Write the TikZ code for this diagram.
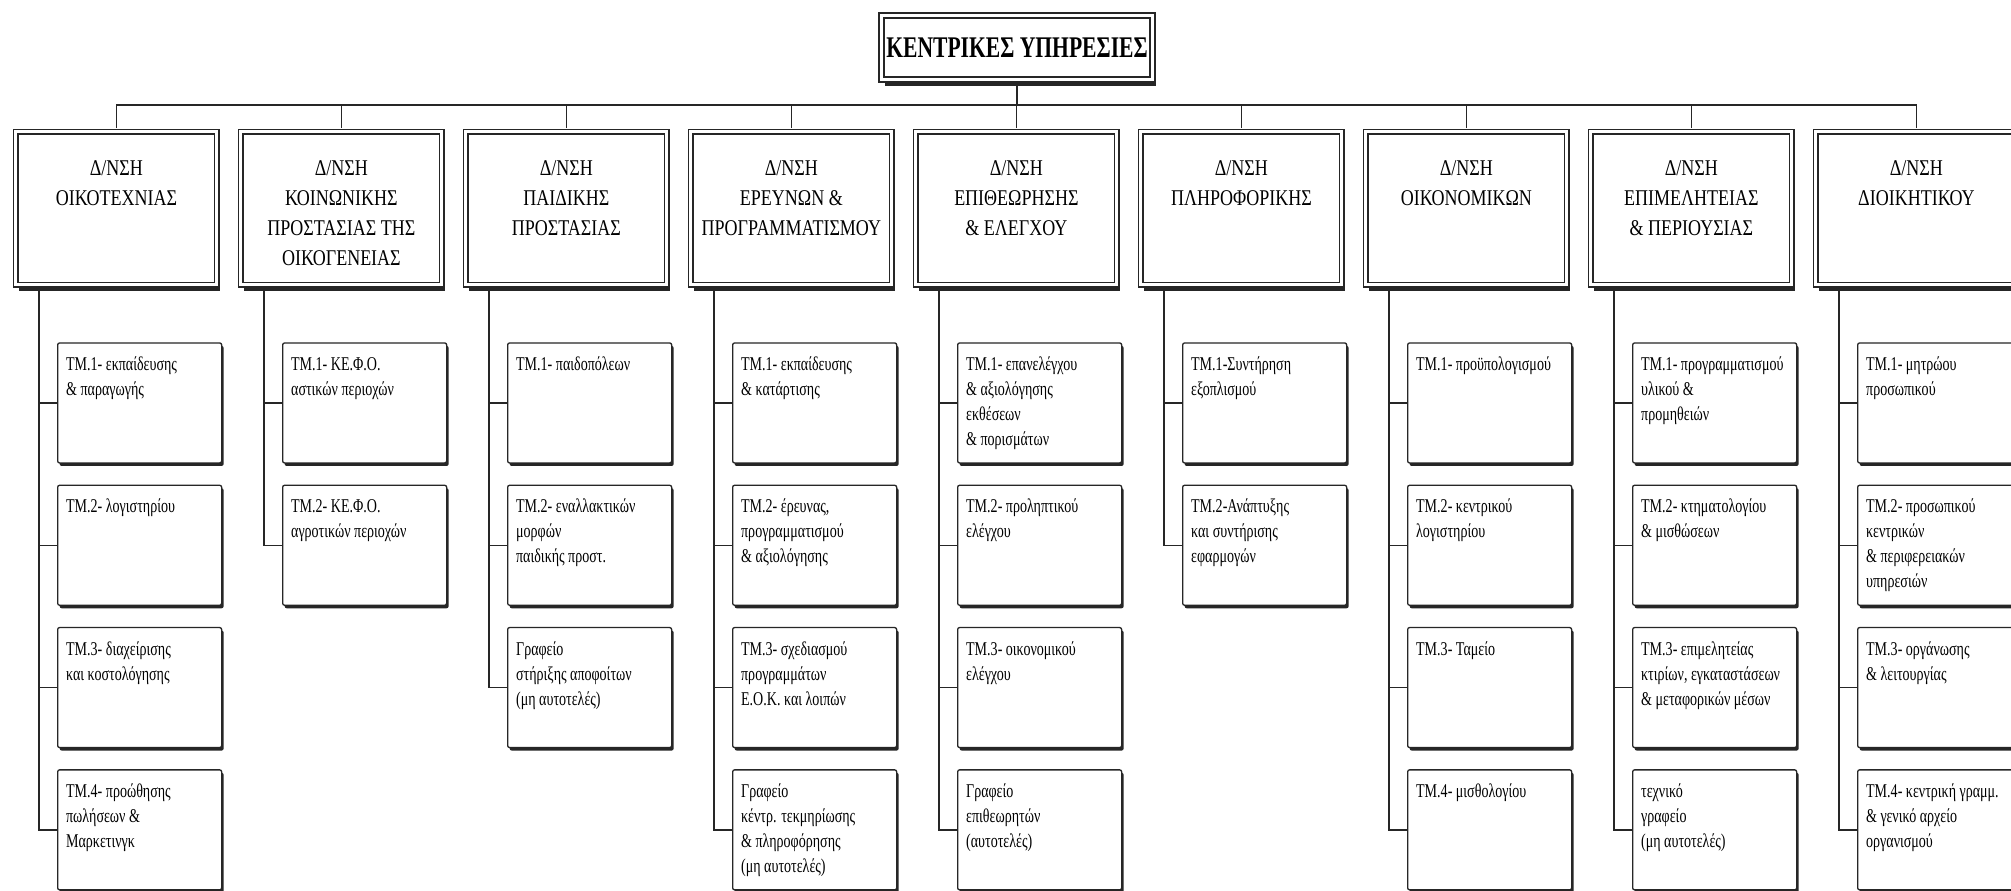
\documentclass[tikz,border=0pt]{standalone}
\usepackage{fontspec}
\setmainfont{Liberation Serif}[FakeStretch=0.72]
\newfontfamily\dirfont{Liberation Serif}[FakeStretch=0.8]
\usetikzlibrary{positioning,shadows}

\newcommand{\dirlines}[1]{\parbox[t][107pt][t]{190pt}{\centering\strut #1}}
\newcommand{\tmlines}[1]{\parbox[t][100pt][t]{147pt}{\raggedright\strut #1}}

\begin{document}
\begin{tikzpicture}[x=1pt, y=-1pt]
    \tikzstyle{headbox} = [rectangle, draw=black!85, line width=1.8pt, double,
               double distance=3pt, fill=white,
               drop shadow={shadow xshift=3.5pt, shadow yshift=-6.5pt, fill=black!85, opacity=1},
               minimum width=271pt, minimum height=64pt, inner sep=0pt,
               font=\bfseries\fontsize{30}{36}\selectfont]
    \tikzstyle{dirbox} = [rectangle, draw=black!85, line width=1.8pt, double,
               double distance=3pt, fill=white,
               drop shadow={shadow xshift=3.5pt, shadow yshift=-6.5pt, fill=black!85, opacity=1},
               minimum width=201pt, minimum height=153pt,
               inner xsep=5.5pt, inner ysep=23pt,
               font=\dirfont\fontsize{22.5}{30}\selectfont]
    \tikzstyle{tmbox} = [rectangle, rounded corners=2pt, draw=black!85, line width=1.3pt,
               fill=white,
               drop shadow={shadow xshift=2pt, shadow yshift=-3pt, fill=black!85, opacity=1},
               minimum width=164pt, minimum height=120pt,
               inner xsep=8.5pt, inner ysep=10pt,
               font=\fontsize{19.5}{25}\selectfont]
    \tikzstyle{line} = [draw, black!85, line width=1.5pt]

    \useasboundingbox (0,0) rectangle (2011,891);
    \fill[white] (0,0) rectangle (2011,891);

    % Head of the chart
    \node[headbox] (central) at (1017,47.5) {ΚΕΝΤΡΙΚΕΣ ΥΠΗΡΕΣΙΕΣ};

    % Directorates
    \node[dirbox, anchor=north west] (dir1) at (15,131) {\dirlines{Δ/ΝΣΗ\\ ΟΙΚΟΤΕΧΝΙΑΣ}};
    \node[dirbox, right=22.2pt of dir1] (dir2) {\dirlines{Δ/ΝΣΗ\\ ΚΟΙΝΩΝΙΚΗΣ\\ ΠΡΟΣΤΑΣΙΑΣ ΤΗΣ\\ ΟΙΚΟΓΕΝΕΙΑΣ}};
    \node[dirbox, right=22.2pt of dir2] (dir3) {\dirlines{Δ/ΝΣΗ\\ ΠΑΙΔΙΚΗΣ\\ ΠΡΟΣΤΑΣΙΑΣ}};
    \node[dirbox, right=22.2pt of dir3] (dir4) {\dirlines{Δ/ΝΣΗ\\ ΕΡΕΥΝΩΝ \&\\ ΠΡΟΓΡΑΜΜΑΤΙΣΜΟΥ}};
    \node[dirbox, right=22.2pt of dir4] (dir5) {\dirlines{Δ/ΝΣΗ\\ ΕΠΙΘΕΩΡΗΣΗΣ\\ \& ΕΛΕΓΧΟΥ}};
    \node[dirbox, right=22.2pt of dir5] (dir6) {\dirlines{Δ/ΝΣΗ\\ ΠΛΗΡΟΦΟΡΙΚΗΣ}};
    \node[dirbox, right=22.2pt of dir6] (dir7) {\dirlines{Δ/ΝΣΗ\\ ΟΙΚΟΝΟΜΙΚΩΝ}};
    \node[dirbox, right=22.2pt of dir7] (dir8) {\dirlines{Δ/ΝΣΗ\\ ΕΠΙΜΕΛΗΤΕΙΑΣ\\ \& ΠΕΡΙΟΥΣΙΑΣ}};
    \node[dirbox, right=22.2pt of dir8] (dir9) {\dirlines{Δ/ΝΣΗ\\ ΔΙΟΙΚΗΤΙΚΟΥ}};

    % Departments
    \node[tmbox, anchor=north west] (dir1-1) at ([xshift=42pt,yshift=-56.5pt]dir1.south west) {\tmlines{ΤΜ.1- εκπαίδευσης\\ \& παραγωγής}};
    \node[tmbox, below=21pt of dir1-1] (dir1-2) {\tmlines{ΤΜ.2- λογιστηρίου}};
    \node[tmbox, below=21pt of dir1-2] (dir1-3) {\tmlines{ΤΜ.3- διαχείρισης\\ και κοστολόγησης}};
    \node[tmbox, below=21pt of dir1-3] (dir1-4) {\tmlines{ΤΜ.4- προώθησης\\ πωλήσεων \&\\ Μαρκετινγκ}};

    \node[tmbox, anchor=north west] (dir2-1) at ([xshift=42pt,yshift=-56.5pt]dir2.south west) {\tmlines{ΤΜ.1- ΚΕ.Φ.Ο.\\ αστικών περιοχών}};
    \node[tmbox, below=21pt of dir2-1] (dir2-2) {\tmlines{ΤΜ.2- ΚΕ.Φ.Ο.\\ αγροτικών περιοχών}};

    \node[tmbox, anchor=north west] (dir3-1) at ([xshift=42pt,yshift=-56.5pt]dir3.south west) {\tmlines{ΤΜ.1- παιδοπόλεων}};
    \node[tmbox, below=21pt of dir3-1] (dir3-2) {\tmlines{ΤΜ.2- εναλλακτικών\\ μορφών\\ παιδικής προστ.}};
    \node[tmbox, below=21pt of dir3-2] (dir3-3) {\tmlines{Γραφείο\\ στήριξης αποφοίτων\\ (μη αυτοτελές)}};

    \node[tmbox, anchor=north west] (dir4-1) at ([xshift=42pt,yshift=-56.5pt]dir4.south west) {\tmlines{ΤΜ.1- εκπαίδευσης\\ \& κατάρτισης}};
    \node[tmbox, below=21pt of dir4-1] (dir4-2) {\tmlines{ΤΜ.2- έρευνας,\\ προγραμματισμού\\ \& αξιολόγησης}};
    \node[tmbox, below=21pt of dir4-2] (dir4-3) {\tmlines{ΤΜ.3- σχεδιασμού\\ προγραμμάτων\\ Ε.Ο.Κ. και λοιπών}};
    \node[tmbox, below=21pt of dir4-3] (dir4-4) {\tmlines{Γραφείο\\ κέντρ. τεκμηρίωσης\\ \& πληροφόρησης\\ (μη αυτοτελές)}};

    \node[tmbox, anchor=north west] (dir5-1) at ([xshift=42pt,yshift=-56.5pt]dir5.south west) {\tmlines{ΤΜ.1- επανελέγχου\\ \& αξιολόγησης\\ εκθέσεων\\ \& πορισμάτων}};
    \node[tmbox, below=21pt of dir5-1] (dir5-2) {\tmlines{ΤΜ.2- προληπτικού\\ ελέγχου}};
    \node[tmbox, below=21pt of dir5-2] (dir5-3) {\tmlines{ΤΜ.3- οικονομικού\\ ελέγχου}};
    \node[tmbox, below=21pt of dir5-3] (dir5-4) {\tmlines{Γραφείο\\ επιθεωρητών\\ (αυτοτελές)}};

    \node[tmbox, anchor=north west] (dir6-1) at ([xshift=42pt,yshift=-56.5pt]dir6.south west) {\tmlines{ΤΜ.1-Συντήρηση\\ εξοπλισμού}};
    \node[tmbox, below=21pt of dir6-1] (dir6-2) {\tmlines{ΤΜ.2-Ανάπτυξης\\ και συντήρισης\\ εφαρμογών}};

    \node[tmbox, anchor=north west] (dir7-1) at ([xshift=42pt,yshift=-56.5pt]dir7.south west) {\tmlines{ΤΜ.1- προϋπολογισμού}};
    \node[tmbox, below=21pt of dir7-1] (dir7-2) {\tmlines{ΤΜ.2- κεντρικού\\ λογιστηρίου}};
    \node[tmbox, below=21pt of dir7-2] (dir7-3) {\tmlines{ΤΜ.3- Ταμείο}};
    \node[tmbox, below=21pt of dir7-3] (dir7-4) {\tmlines{ΤΜ.4- μισθολογίου}};

    \node[tmbox, anchor=north west] (dir8-1) at ([xshift=42pt,yshift=-56.5pt]dir8.south west) {\tmlines{ΤΜ.1- προγραμματισμού\\ υλικού \&\\ προμηθειών}};
    \node[tmbox, below=21pt of dir8-1] (dir8-2) {\tmlines{ΤΜ.2- κτηματολογίου\\ \& μισθώσεων}};
    \node[tmbox, below=21pt of dir8-2] (dir8-3) {\tmlines{ΤΜ.3- επιμελητείας\\ κτιρίων, εγκαταστάσεων\\ \& μεταφορικών μέσων}};
    \node[tmbox, below=21pt of dir8-3] (dir8-4) {\tmlines{τεχνικό\\ γραφείο\\ (μη αυτοτελές)}};

    \node[tmbox, anchor=north west] (dir9-1) at ([xshift=42pt,yshift=-56.5pt]dir9.south west) {\tmlines{ΤΜ.1- μητρώου\\ προσωπικού}};
    \node[tmbox, below=21pt of dir9-1] (dir9-2) {\tmlines{ΤΜ.2- προσωπικού\\ κεντρικών\\ \& περιφερειακών\\ υπηρεσιών}};
    \node[tmbox, below=21pt of dir9-2] (dir9-3) {\tmlines{ΤΜ.3- οργάνωσης\\ \& λειτουργίας}};
    \node[tmbox, below=21pt of dir9-3] (dir9-4) {\tmlines{ΤΜ.4- κεντρική γραμμ.\\ \& γενικό αρχείο\\ οργανισμού}};

    % Bus from the head down to every directorate
    \coordinate (bus) at (1017,105);
    \draw[line, shorten <=3pt] (central.south) -- (bus);
    \foreach \i in {1,...,9}
      \draw[line, shorten <=3pt] (dir\i.north) |- (bus);

    % Trunks down to the departments
    \foreach \i/\n in {1/4,2/2,3/3,4/4,5/4,6/2,7/4,8/4,9/4} {
      \coordinate (trunk\i) at ([xshift=24pt]dir\i.south west);
      \foreach \j in {1,...,\n}
        \draw[line, shorten >=3pt] (dir\i-\j.west) -| (trunk\i);
    }

  \end{tikzpicture}
\end{document}
